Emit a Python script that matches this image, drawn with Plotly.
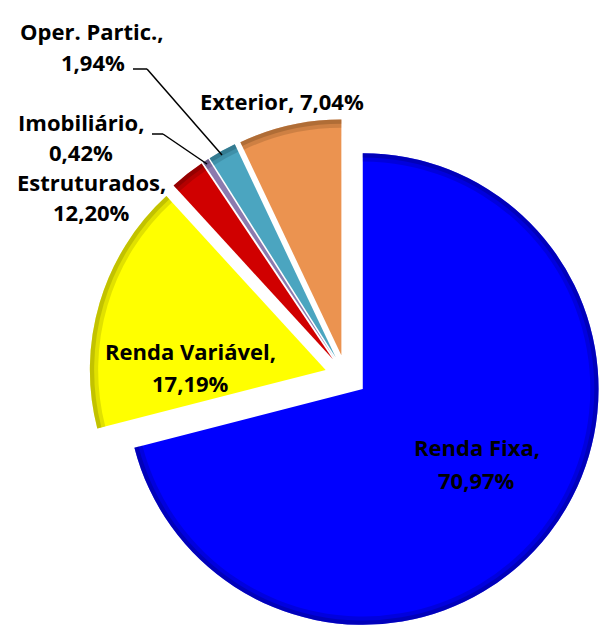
import plotly.graph_objects as go

# ---- data ----
categories = ["Renda Fixa", "Renda Variável", "Estruturados", "Imobiliário", "Oper. Partic.", "Exterior"]
values = [70.97, 17.19, 2.4, 0.42, 1.94, 7.04]
pct_labels = ["70,97%", "17,19%", "12,20%", "0,42%", "1,94%", "7,04%"]

# ---- style ----
colors = ["#0000FF", "#FFFF00", "#D00000", "#8C7AAE", "#4BA5C0", "#EB9350"]
rim_colors = ["#00007A", "#8A8A00", "#600000", "#4A3E60", "#1F5566", "#7A4A20"]
W, H = 603, 633
pulls = [0.09] * len(values)
domain = dict(x=[0.1476, 1.0], y=[0.0, 0.812])

fig = go.Figure()
fig.add_trace(go.Pie(
    labels=categories, values=values, sort=False, direction="clockwise",
    rotation=0, pull=pulls, domain=domain, textinfo="none",
    marker=dict(colors=colors, line=dict(width=0)), showlegend=False,
    hoverinfo="label+value",
))
# darker outer rims for a bevelled look
for hole, op in [(0.965, 0.25), (0.982, 0.35)]:
    fig.add_trace(go.Pie(
        labels=categories, values=values, sort=False, direction="clockwise",
        rotation=0, pull=pulls, domain=domain, textinfo="none", hole=hole,
        marker=dict(colors=rim_colors, line=dict(width=0)), opacity=op,
        showlegend=False, hoverinfo="skip",
    ))

font = dict(family="Open Sans", size=22, color="black")

def px(x, y):
    return x / W, 1 - y / H

# label placements (pixel centres): (name line, pct line)
label_pos = {
    "Renda Fixa": [(477, 447), (477, 480)],
    "Renda Variável": [(190, 351), (190, 383)],
    "Estruturados": [(91, 182), (91, 212)],
    "Imobiliário": [(81, 122), (81, 152)],
    "Oper. Partic.": [(92, 31), (93, 62)],
}
annotations = []
for name, pct in zip(categories, pct_labels):
    if name == "Exterior":
        x, y = px(282, 101)
        annotations.append(dict(x=x, y=y, xref="paper", yref="paper", showarrow=False,
                                text=f"<b>{name}, {pct}</b>", font=font,
                                xanchor="center", yanchor="middle"))
        continue
    (x1, y1), (x2, y2) = label_pos[name]
    ax, ay = px(x1, y1)
    bx, by = px(x2, y2)
    annotations.append(dict(x=ax, y=ay, xref="paper", yref="paper", showarrow=False,
                            text=f"<b>{name},</b>", font=font, xanchor="center", yanchor="middle"))
    annotations.append(dict(x=bx, y=by, xref="paper", yref="paper", showarrow=False,
                            text=f"<b>{pct}</b>", font=font, xanchor="center", yanchor="middle"))

# leader lines
leaders = [
    [(133, 69), (147, 69), (222, 155)],
    [(152, 134), (163, 134), (207, 164)],
]
shapes = []
for pts in leaders:
    for (xa, ya), (xb, yb) in zip(pts[:-1], pts[1:]):
        x0, y0 = px(xa, ya)
        x1, y1 = px(xb, yb)
        shapes.append(dict(type="line", xref="paper", yref="paper", x0=x0, y0=y0, x1=x1, y1=y1,
                           line=dict(color="black", width=1.5)))

fig.update_layout(
    width=W, height=H, margin=dict(l=0, r=0, t=0, b=0),
    paper_bgcolor="white", plot_bgcolor="white",
    annotations=annotations, shapes=shapes, showlegend=False,
)
fig.write_html("out.html")
